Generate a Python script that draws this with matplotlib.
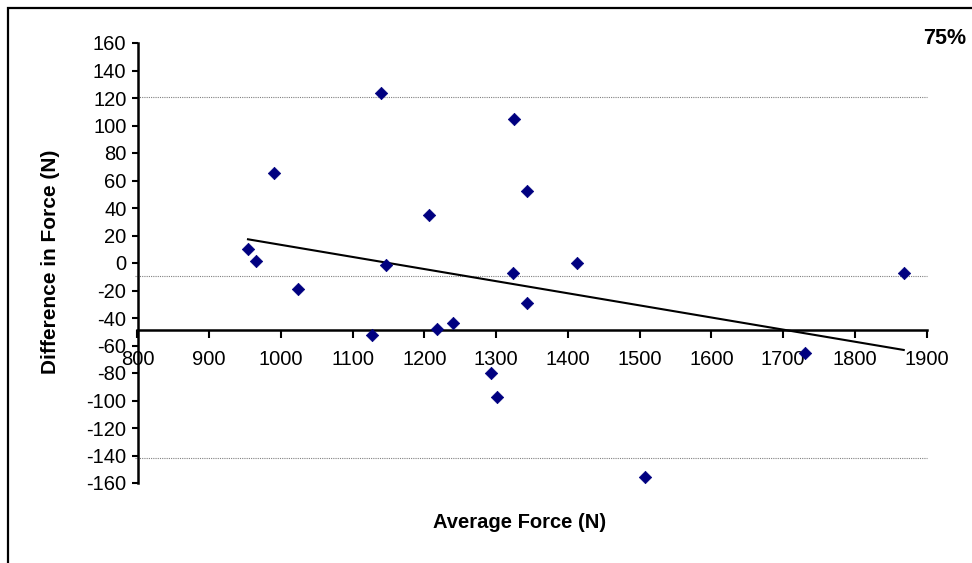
import numpy as np
import matplotlib
matplotlib.use("Agg")
import matplotlib.pyplot as plt
from matplotlib.patches import Rectangle

plt.rcParams['font.family'] = ['Liberation Sans', 'DejaVu Sans']
plt.rcParams['axes.unicode_minus'] = False

# data
avg_force = [954, 965, 990, 1024, 1127, 1139, 1147, 1206, 1217, 1240,
             1293, 1301, 1325, 1323, 1343, 1343, 1413, 1508, 1731, 1868]
diff_force = [10.2, 1.5, 65.2, -19.0, -52.6, 123.4, -1.7, 34.9, -48.2, -43.6,
              -80.2, -97.7, 104.5, -7.5, 52.4, -29.3, -0.2, -155.6, -65.7, -7.5]
limit_lines = [121.0, -9.2, -142.0]   # upper limit, mean, lower limit
x_ticks = list(range(800, 2000, 100))
y_ticks = list(range(-160, 180, 20))

fig = plt.figure(figsize=(9.72, 5.63), dpi=100)
ax = fig.add_axes([137.5 / 972, 1 - 483 / 563, 789.2 / 972, 440 / 563])

# outer chart border (right and bottom edges fall outside the image)
fig.patches.append(Rectangle((8 / 972, -0.1), 1.1, 1 - 8 / 563 + 0.1,
                             transform=fig.transFigure, fill=False,
                             edgecolor='black', linewidth=1.6))

for v in limit_lines:
    ax.plot([796, 1900], [v, v], color='#808080', linestyle=(0, (1, 1)),
            linewidth=0.8, clip_on=False, zorder=1)

ax.scatter(avg_force, diff_force, marker='D', s=40, color='#000080',
           edgecolors='#000080', linewidths=0.5, zorder=3, clip_on=False)

# linear trend line across the data range
fit = np.polyfit(avg_force, diff_force, 1)
xs = np.array([min(avg_force), max(avg_force)])
ax.plot(xs, np.polyval(fit, xs), color='black', linewidth=1.5, zorder=2)

ax.set_xlim(800, 1900)
ax.set_ylim(-160, 160)
ax.set_xticks(x_ticks)
ax.set_yticks(y_ticks)

ax.spines['top'].set_visible(False)
ax.spines['right'].set_visible(False)
ax.spines['bottom'].set_position(('data', -49))
ax.spines['left'].set_linewidth(1.8)
ax.spines['bottom'].set_linewidth(1.8)
ax.tick_params(axis='both', direction='out', width=1.5, labelsize=14.5)
ax.tick_params(axis='y', length=4, pad=4)
ax.tick_params(axis='x', length=6, pad=8)
ax.patch.set_visible(False)

fig.text(51 / 972, 1 - 262 / 563, 'Difference in Force (N)', rotation=90,
         ha='center', va='center', fontsize=15, fontweight='bold')
fig.text(520 / 972, 1 - 523 / 563, 'Average Force (N)',
         ha='center', va='center', fontsize=14.5, fontweight='bold')
fig.text(945 / 972, 1 - 38 / 563, '75%',
         ha='center', va='center', fontsize=15.5, fontweight='bold')

fig.savefig('out.png', dpi=100)
